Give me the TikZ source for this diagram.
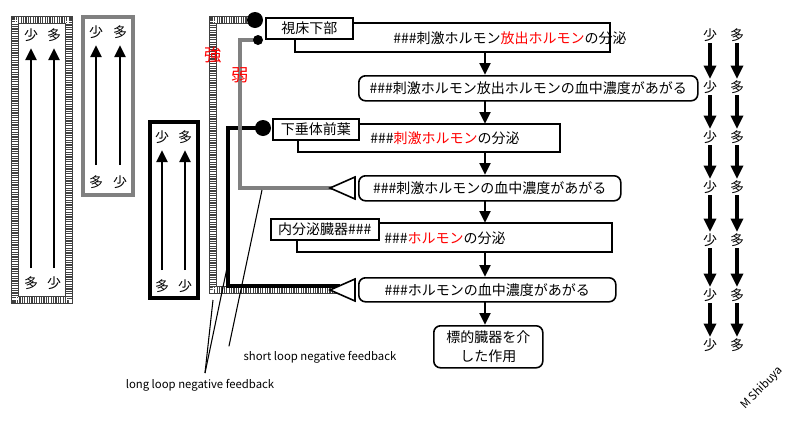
\documentclass[tikz,border=0pt]{standalone}
\usepackage{fontspec}
\setmainfont{Noto Sans CJK JP}
\usetikzlibrary{arrows.meta}
\begin{document}
\begin{tikzpicture}[x=0.75pt,y=-0.75pt,
  font=\fontsize{10.5}{12}\selectfont,
  chk/.style={line width=6.5pt,black!75},
  chkw/.style={line width=4.5pt,white,dash pattern=on 0.9pt off 0.9pt},
  up/.style={-{Triangle[length=9pt,width=8pt]},line width=2.2pt},
  dn/.style={-{Triangle[length=9pt,width=8pt]},line width=2.2pt},
  dr/.style={-{Triangle[length=10pt,width=9pt]},line width=2.8pt},
  lab/.style={draw,line width=1.2pt,fill=white,inner sep=2pt,minimum height=16pt,anchor=north west},
  rnd/.style={draw,line width=1.2pt,rounded corners=5pt,fill=white,anchor=north west,inner sep=2pt},
  tri/.style={draw,line width=1.2pt,fill=white},
  lbl/.style={font=\fontsize{8.5}{10}\selectfont}]
\useasboundingbox (0,0) rectangle (800,422);
% left boxes
\draw[chk] (15,20) rectangle (69,300);
\draw[chkw] (15,20) rectangle (69,300);
\draw[line width=2.5pt,gray] (83,17) rectangle (133,195);
\draw[line width=3pt] (150,122) rectangle (198,298);
\foreach \x/\a/\b/\yt/\yb/\ya/\yz in {31/少/多/35/283/268/48, 54/多/少/35/283/268/48,
  96/少/多/32/182/165/45, 120/多/少/32/182/165/45, 162/少/多/137/286/270/150, 185/多/少/137/286/270/150}{
  \node (t\x) at (\x,\yt) {\a};
  \node (b\x) at (\x,\yb) {\b};
  \coordinate (s\x) at (\x,\ya); \coordinate (e\x) at (\x,\yz);
  \draw[up] (s\x) -- (e\x);
}
% feedback lines
\coordinate (c1) at (255,20);
\coordinate (c2) at (258,40);
\coordinate (c3) at (263,128);
\draw[chk] (c1) -- (213,20) -- (213,290) -- (340,290);
\draw[chkw] (c1) -- (213,20) -- (213,290) -- (340,290);
\draw[line width=3pt] (c3) -- (228,128) -- (228,286) -- (340,286);
\draw[line width=3.5pt,gray] (c2) -- (240,40) -- (240,188) -- (340,188);
\fill (c1) circle (8);
\fill (c2) circle (5);
\fill (c3) circle (8);
\node[red,font=\fontsize{13}{14}\selectfont] (qiang) at (213,55) {強};
\node[red,font=\fontsize{13}{14}\selectfont] (ruo) at (240,75) {弱};
% brackets
\draw[line width=1.2pt] (295,23) rectangle (610,52);
\node[lab,minimum width=87pt*0.75] (h1) at (265,17) {視床下部};
\node (t1) at (510,38) {\#\#\#刺激ホルモン\textcolor{red}{放出ホルモン}の分泌};
\draw[line width=1.2pt] (298,124) rectangle (560,152);
\node[lab,minimum width=86pt*0.75] (h2) at (272,118) {下垂体前葉};
\node (t2) at (445,138) {\#\#\#\textcolor{red}{刺激ホルモン}の分泌};
\draw[line width=1.2pt] (297,223) rectangle (612,252);
\node[lab,minimum width=108pt*0.75] (h3) at (270,218) {内分泌臓器\#\#\#};
\node (t3) at (445,238) {\#\#\#\textcolor{red}{ホルモン}の分泌};
\node[rnd,minimum width=339pt*0.75,minimum height=25pt*0.75] (r1) at (358,75) {\#\#\#刺激ホルモン放出ホルモンの血中濃度があがる};
\node[rnd,minimum width=262pt*0.75,minimum height=25pt*0.75] (r2) at (358,175) {\#\#\#刺激ホルモンの血中濃度があがる};
\node[rnd,minimum width=257pt*0.75,minimum height=24pt*0.75] (r3) at (358,277) {\#\#\#ホルモンの血中濃度があがる};
\node[rnd,minimum width=109pt*0.75,minimum height=42pt*0.75,align=center,font=\fontsize{10.5}{14}\selectfont] (r4) at (433,325) {標的臓器を介\\した作用};
\foreach \a/\b in {52/75,100/124,152/175,200/223,252/277,301/325}{
  \draw[dn] (485,\a) -- (485,\b);
}
\draw[tri] (355,177) -- (330,188) -- (355,199) -- cycle;
\draw[tri] (355,279) -- (330,290) -- (355,301) -- cycle;
% right column
\foreach \y [count=\i] in {35,87,137,187,240,295,345}{
  \node[inner sep=1pt] (L\i) at (710,\y) {少};
  \node[inner sep=1pt] (R\i) at (737,\y) {多};
}
\foreach \i [evaluate=\i as \j using int(\i+1)] in {1,...,6}{
  \draw[dr] (L\i) -- (L\j);
  \draw[dr] (R\i) -- (R\j);
}
% labels
\node[lbl] (short) at (320,357) {short loop negative feedback};
\node[lbl] (long) at (200,385) {long loop negative feedback};
\coordinate (sp) at (262,190);
\coordinate (lp1) at (213,300);
\coordinate (lp2) at (227,268);
\draw[line width=0.8pt] (short.north west)++(-10,0) -- (sp);
\draw[line width=0.8pt] (205,373) -- (lp1);
\draw[line width=0.8pt] (205,373) -- (lp2);
\node[lbl,rotate=45] (ms) at (762,388) {M Shibuya};
\end{tikzpicture}
\end{document}
